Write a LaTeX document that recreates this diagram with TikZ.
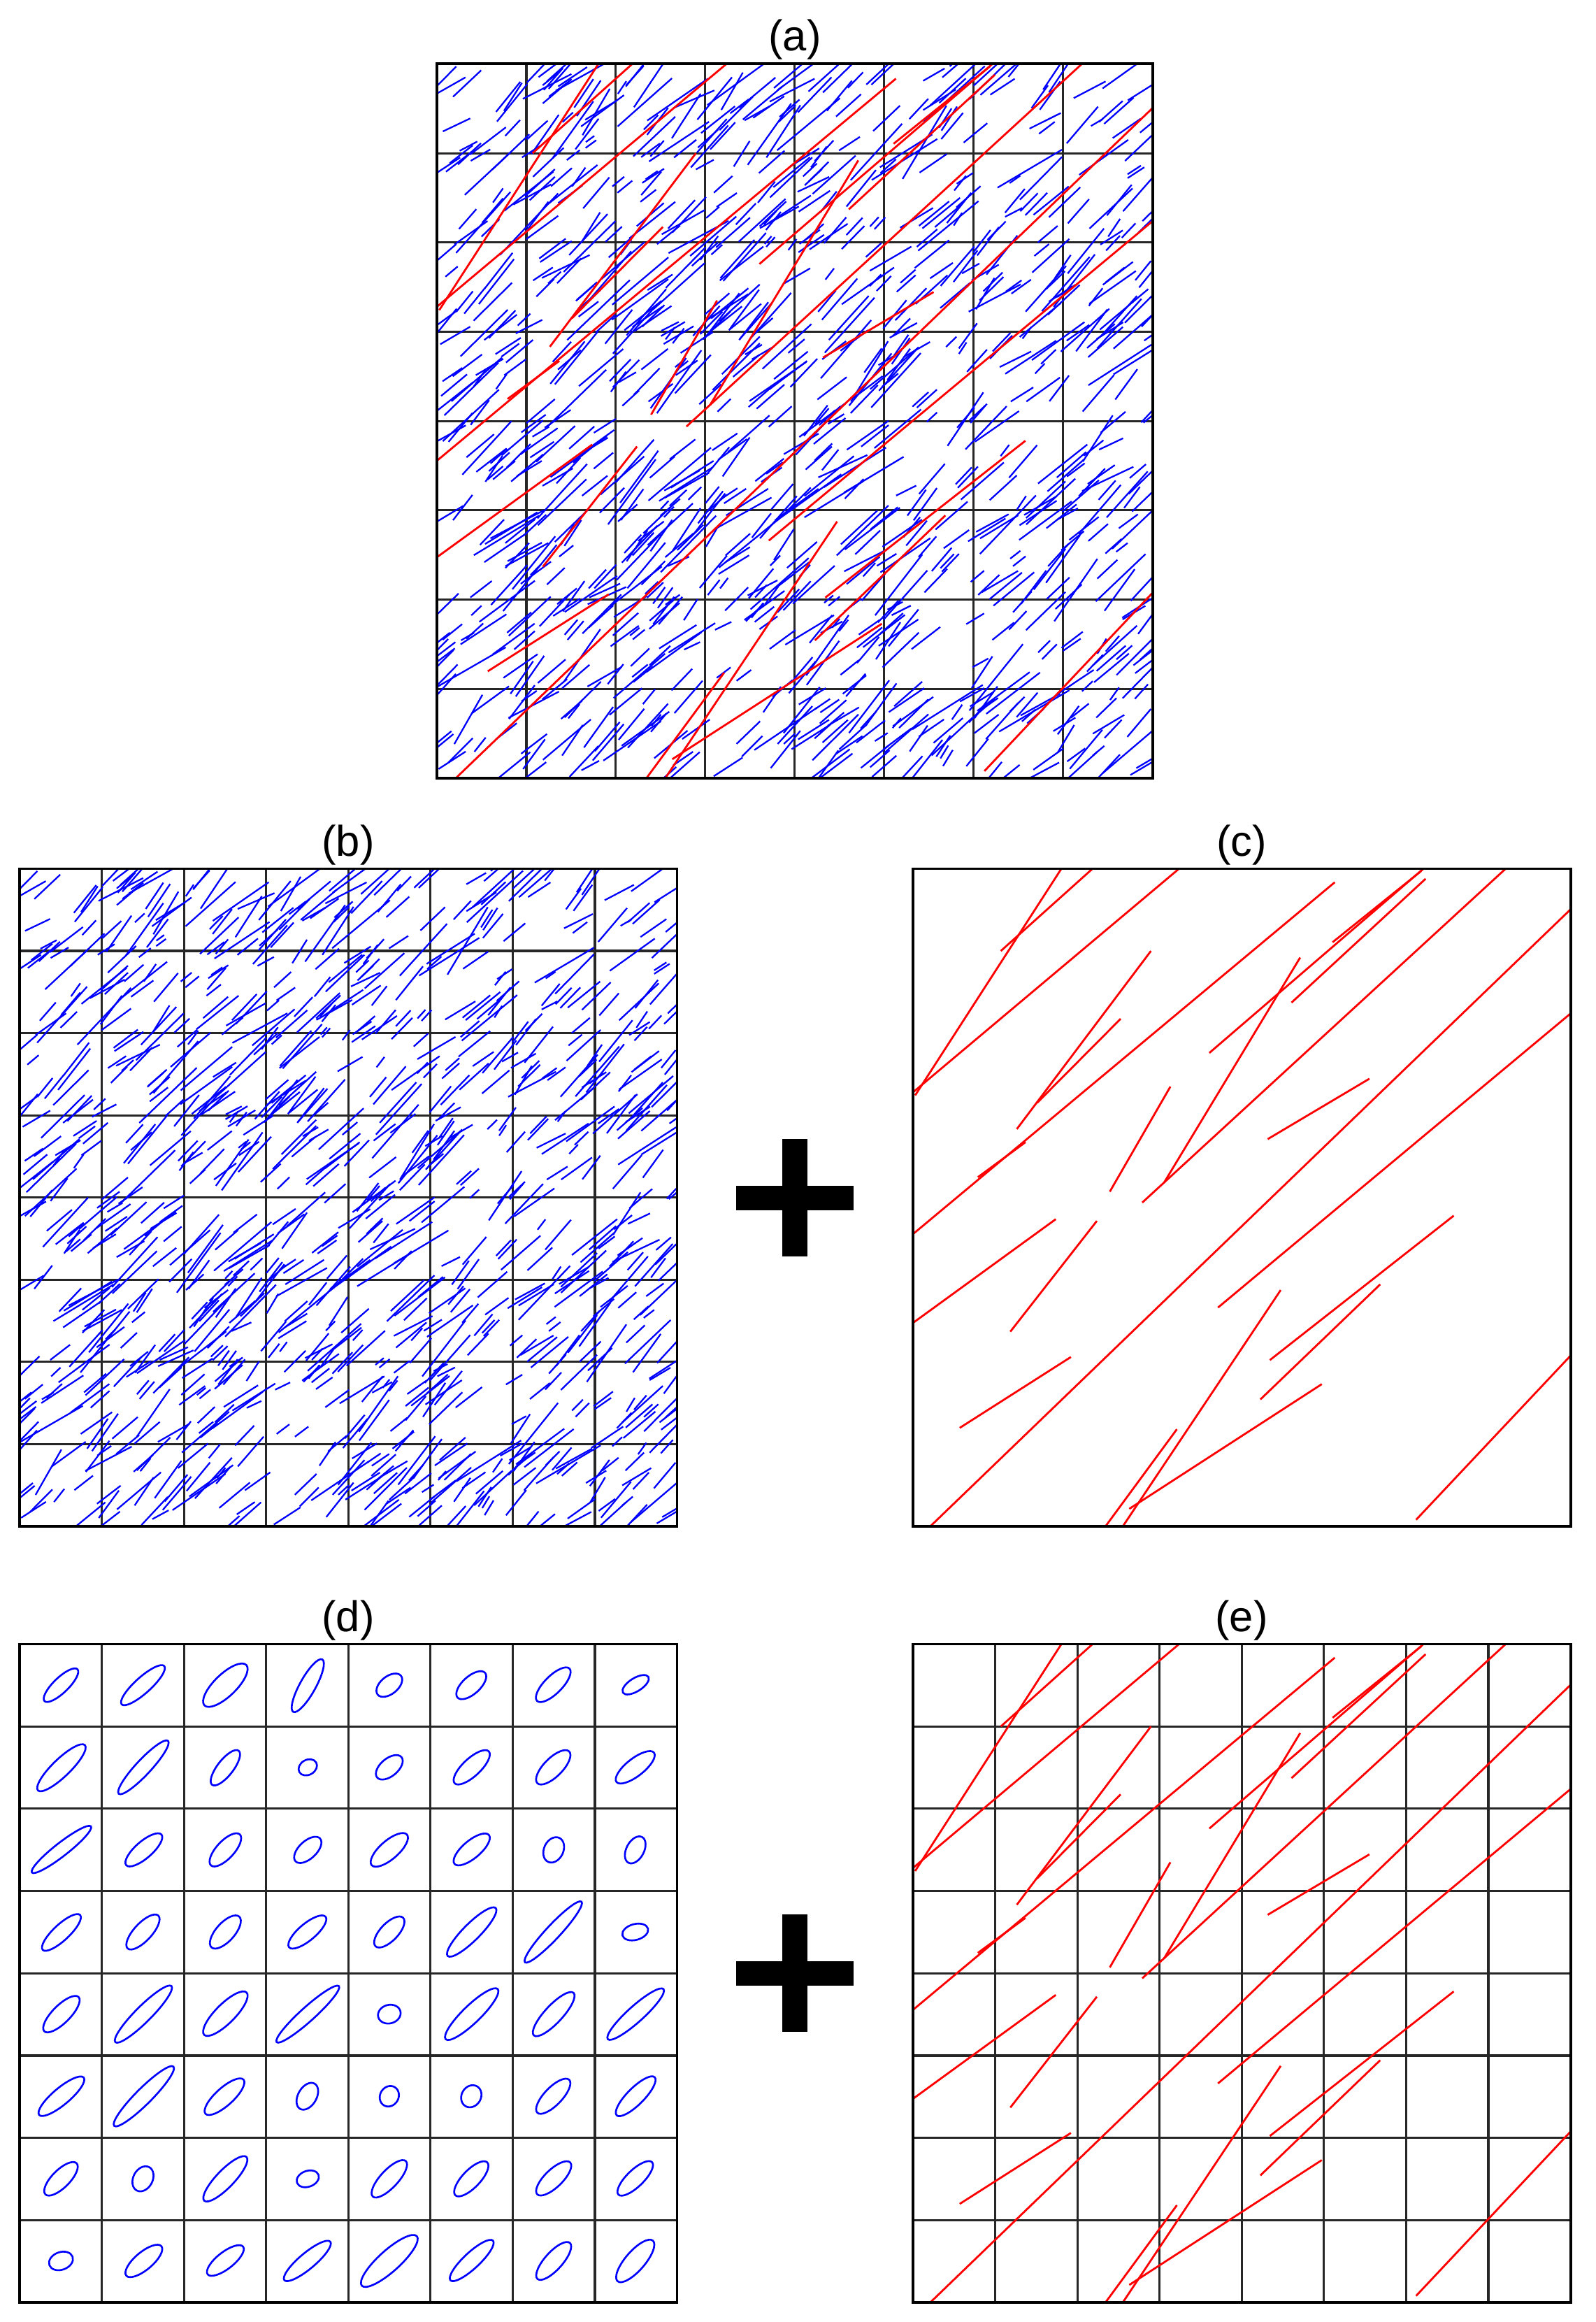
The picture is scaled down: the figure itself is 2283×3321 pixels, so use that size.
\documentclass[tikz,border=0pt]{standalone}
\usepackage{fontspec}
\setmainfont{Liberation Sans}
\tikzset{
 gridline/.style={draw=black!85, line width=0.9pt},
 frameline/.style={draw=black, line width=1.1pt},
 blueline/.style={draw=blue, line width=0.65pt},
 redline/.style={draw=red, line width=0.8pt},
 ellline/.style={draw=blue, line width=0.75pt},
 plab/.style={font=\fontsize{17.5}{20}\selectfont, anchor=base, inner sep=0pt},
 plusbar/.style={fill=black},
}
% red fractures, coordinates measured on the (c) panel
\newcommand\rl[4]{\draw[redline] ({(#1-25)/1520},{(1540-#2)/1503}) -- ({(#3-25)/1520},{(1540-#4)/1503});}
\newcommand\redset{%
 \rl{368}{37}{30}{555}
 \rl{440}{37}{228}{225}
 \rl{640}{37}{25}{548}
 \rl{1000}{68}{25}{872}
 \rl{285}{662}{175}{742}
 \rl{575}{225}{265}{632}
 \rl{505}{380}{312}{572}
 \rl{1205}{37}{710}{458}
 \rl{1210}{60}{900}{343}
 \rl{1200}{42}{995}{205}
 \rl{920}{240}{605}{755}
 \rl{1395}{37}{555}{800}
 \rl{1545}{130}{65}{1540}
 \rl{1545}{368}{730}{1040}
 \rl{1080}{517}{845}{655}
 \rl{620}{535}{480}{775}
 \rl{355}{838}{25}{1075}
 \rl{450}{842}{250}{1095}
 \rl{1275}{830}{850}{1160}
 \rl{1105}{987}{828}{1250}
 \rl{875}{1000}{510}{1540}
 \rl{970}{1215}{525}{1500}
 \rl{635}{1318}{470}{1540}
 \rl{390}{1153}{133}{1315}
 \rl{1545}{1150}{1188}{1525}
}
% random small fractures (same seed -> same set in (a) and (b))
\newcommand\bluefield{%
 \pgfmathsetseed{4242}%
 \foreach \i in {1,...,880}{%
  \pgfmathsetmacro\bx{rnd}%
  \pgfmathsetmacro\by{rnd}%
  \pgfmathsetmacro\ba{42+10*rand+9*rand}%
  \pgfmathsetmacro\rr{rnd}%
  \pgfmathsetmacro\bl{0.009+0.018*rnd+0.035*\rr*\rr*\rr}%
  \pgfmathsetmacro\rc{rnd}%
  \draw[blueline] ({\bx-\bl*cos(\ba)},{\by-\bl*sin(\ba)}) -- ({\bx+\bl*cos(\ba)},{\by+\bl*sin(\ba)});
  \ifdim\rc pt<0.12pt
   \pgfmathsetmacro\od{0.004+0.008*rnd}%
   \pgfmathsetmacro\ox{-\od*sin(\ba)}%
   \pgfmathsetmacro\oy{\od*cos(\ba)}%
   \pgfmathsetmacro\sh{0.5*\bl*rand}%
   \draw[blueline] ({\bx+\ox+\sh*cos(\ba)-0.8*\bl*cos(\ba)},{\by+\oy+\sh*sin(\ba)-0.8*\bl*sin(\ba)}) -- ({\bx+\ox+\sh*cos(\ba)+0.8*\bl*cos(\ba)},{\by+\oy+\sh*sin(\ba)+0.8*\bl*sin(\ba)});
  \fi
 }}
\newcommand\gridlines{%
 \foreach \k in {1,...,7}{%
  \draw[gridline] (\k/8,0) -- (\k/8,1);
  \draw[gridline] (0,\k/8) -- (1,\k/8);
 }}
\newcommand\el[5]{\draw[ellline, rotate around={#5:({(#1-43)/1492},{(1527-#2)/1475})}] ({(#1-43)/1492},{(1527-#2)/1475}) ellipse [x radius={#3*0.0063cm}, y radius={#4*0.0063cm}];}
\begin{document}
\begin{tikzpicture}[x=0.01cm, y=-0.01cm]
\useasboundingbox (0,0) rectangle (2283,3321);
\fill[white] (0,0) rectangle (2283,3321);

% labels
\node[plab] (la) at (1137,73) {(a)};
\node[plab] (lb) at (498,1224) {(b)};
\node[plab] (lc) at (1776,1224) {(c)};
\node[plab] (ld) at (498,2333) {(d)};
\node[plab] (le) at (1776,2333) {(e)};

% (a)
\begin{scope}[shift={(625,1113)}, x=10.23cm, y=10.21cm]
 \gridlines
 \begin{scope}
  \clip (0,0) rectangle (1,1);
  \bluefield
  \redset
 \end{scope}
 \draw[frameline] (0,0) rectangle (1,1);
\end{scope}

% (b)
\begin{scope}[shift={(28,2183)}, x=9.40cm, y=9.40cm]
 \gridlines
 \begin{scope}
  \clip (0,0) rectangle (1,1);
  \bluefield
 \end{scope}
 \draw[frameline] (0,0) rectangle (1,1);
\end{scope}

% (c)
\begin{scope}[shift={(1306,2183)}, x=9.40cm, y=9.40cm]
 \begin{scope}
  \clip (0,0) rectangle (1,1);
  \redset
 \end{scope}
 \draw[frameline] (0,0) rectangle (1,1);
\end{scope}

% (d)
\begin{scope}[shift={(28,3293)}, x=9.40cm, y=9.41cm]
 \gridlines
 \draw[frameline] (0,0) rectangle (1,1);
 \el{137}{144}{52}{17}{44}
 \el{323}{144}{65}{18}{42}
 \el{510}{144}{66}{25}{44}
 \el{697}{145}{68}{18}{61}
 \el{882}{144}{34}{20}{39}
 \el{1068}{144}{42}{20}{42}
 \el{1254}{143}{52}{20}{45}
 \el{1441}{143}{34}{15}{32}
 \el{138}{329}{74}{20}{44}
 \el{324}{328}{82}{17}{47}
 \el{510}{329}{49}{18}{52}
 \el{697}{328}{22}{17}{30}
 \el{882}{328}{36}{20}{40}
 \el{1069}{328}{53}{20}{43}
 \el{1254}{328}{51}{21}{45}
 \el{1440}{328}{54}{20}{38}
 \el{138}{512}{85}{15}{38}
 \el{325}{513}{53}{19}{41}
 \el{510}{513}{48}{20}{47}
 \el{697}{513}{38}{20}{43}
 \el{882}{513}{53}{21}{41}
 \el{1069}{512}{51}{20}{40}
 \el{1255}{513}{30}{22}{65}
 \el{1440}{513}{33}{20}{62}
 \el{138}{698}{58}{18}{43}
 \el{323}{697}{51}{20}{47}
 \el{510}{697}{47}{21}{48}
 \el{696}{697}{54}{19}{40}
 \el{882}{697}{45}{20}{46}
 \el{1069}{697}{77}{19}{45}
 \el{1254}{697}{94}{16}{47}
 \el{1440}{697}{30}{18}{15}
 \el{138}{881}{55}{20}{45}
 \el{324}{881}{90}{18}{45}
 \el{510}{880}{68}{22}{45}
 \el{697}{881}{95}{16}{42}
 \el{882}{881}{26}{21}{15}
 \el{1069}{881}{82}{20}{44}
 \el{1255}{881}{66}{20}{47}
 \el{1441}{881}{85}{18}{42}
 \el{138}{1065}{66}{19}{40}
 \el{325}{1065}{95}{18}{45}
 \el{508}{1066}{58}{20}{42}
 \el{696}{1065}{33}{21}{60}
 \el{882}{1065}{24}{21}{60}
 \el{1068}{1065}{26}{22}{60}
 \el{1254}{1065}{52}{20}{46}
 \el{1441}{1065}{61}{19}{45}
 \el{137}{1250}{50}{20}{45}
 \el{323}{1250}{30}{22}{62}
 \el{510}{1250}{69}{20}{46}
 \el{697}{1250}{26}{18}{20}
 \el{882}{1250}{55}{20}{47}
 \el{1068}{1250}{52}{20}{46}
 \el{1255}{1249}{52}{20}{44}
 \el{1440}{1249}{53}{19}{44}
 \el{137}{1434}{28}{20}{20}
 \el{325}{1434}{52}{20}{40}
 \el{510}{1433}{51}{19}{38}
 \el{696}{1434}{68}{18}{40}
 \el{882}{1434}{84}{24}{42}
 \el{1069}{1433}{66}{18}{43}
 \el{1255}{1434}{55}{20}{48}
 \el{1440}{1434}{61}{22}{49}
\end{scope}

% (e)
\begin{scope}[shift={(1306,3293)}, x=9.40cm, y=9.41cm]
 \gridlines
 \begin{scope}
  \clip (0,0) rectangle (1,1);
  \redset
 \end{scope}
 \draw[frameline] (0,0) rectangle (1,1);
\end{scope}

% plus signs
\fill[plusbar] (1119,1629) rectangle (1155,1797);
\fill[plusbar] (1053,1696) rectangle (1221,1731);
\fill[plusbar] (1119,2738) rectangle (1155,2906);
\fill[plusbar] (1053,2805) rectangle (1221,2840);
\end{tikzpicture}
\end{document}
